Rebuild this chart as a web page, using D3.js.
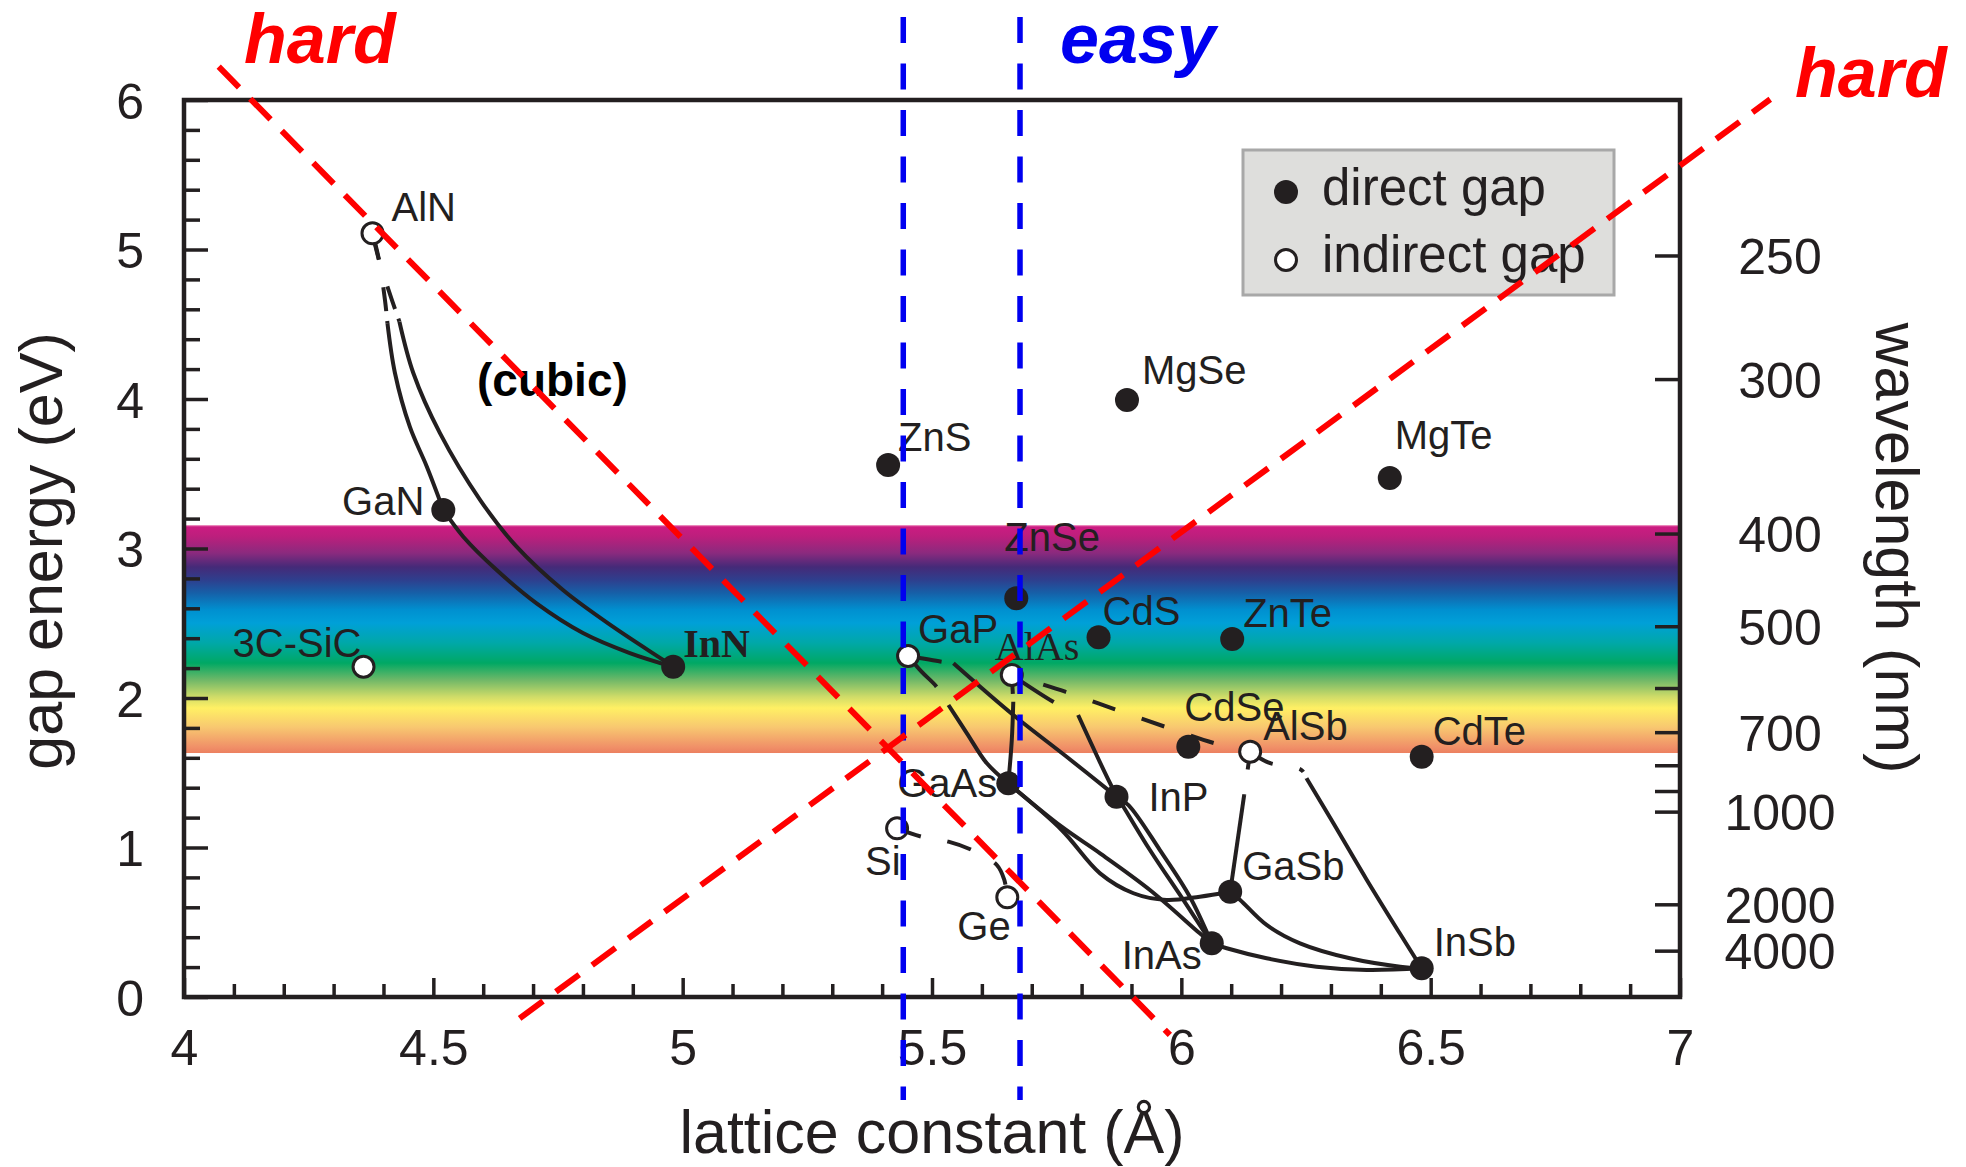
<!DOCTYPE html>
<html>
<head>
<meta charset="utf-8">
<script src="https://cdn.jsdelivr.net/npm/d3@7"></script>
<style>
  body { margin: 0; background: #fff; }
  svg { display: block; font-family: "Liberation Sans", Arial, sans-serif; }
</style>
</head>
<body>
<div id="chart"></div>
<script>
// ---- data ----
const materials = ['AlN','GaN','InN','3C-SiC','ZnS','MgSe','MgTe','ZnSe','CdS','ZnTe','GaP','AlAs',
                   'CdSe','AlSb','CdTe','GaAs','InP','Si','Ge','GaSb','InAs','InSb'];
const latticeA  = [4.378,4.520,4.981,4.360,5.412,5.891,6.418,5.669,5.834,6.102,5.452,5.660,
                   6.014,6.138,6.482,5.653,5.870,5.430,5.651,6.098,6.061,6.482];
const gapEV     = [5.108,3.258,2.209,2.209,3.559,3.993,3.472,2.667,2.406,2.395,2.281,2.154,
                   1.674,1.641,1.607,1.429,1.340,1.128,0.667,0.704,0.359,0.192];
const gapKind   = ['i','d','d','i','d','d','d','d','d','d','i','i',
                   'd','i','d','d','d','i','i','d','d','d'];

// alloy curves: [lattice constant, gap] points, indirect part dashed
const alloys = [
  { name: 'AlGaN',  dashed: [[4.378,5.108],[4.391,4.930],[4.403,4.662],[4.408,4.506]],
    solid: [[4.408,4.506],[4.423,4.174],[4.453,3.813],[4.487,3.547],[4.520,3.258]] },
  { name: 'AlInN',  dashed: [[4.378,5.108],[4.391,4.930],[4.417,4.662],[4.432,4.517]],
    solid: [[4.432,4.517],[4.460,4.172],[4.513,3.773],[4.594,3.324],[4.667,3.012],[4.760,2.722],
            [4.860,2.477],[4.961,2.254],[4.981,2.209]] },
  { name: 'InGaN',  dashed: [],
    solid: [[4.520,3.258],[4.560,3.079],[4.627,2.856],[4.707,2.633],[4.800,2.435],[4.894,2.301],[4.981,2.209]] },
  { name: 'GaAsP',  dashed: [[5.452,2.281],[5.479,2.176],[5.509,2.076],[5.533,1.953]],
    solid: [[5.533,1.953],[5.570,1.764],[5.610,1.563],[5.653,1.429]] },
  { name: 'GaInP',  dashed: [[5.452,2.281],[5.519,2.243],[5.543,2.232]],
    solid: [[5.543,2.232],[5.663,1.886],[5.770,1.607],[5.870,1.340]] },
  { name: 'AlGaAs', dashed: [[5.660,2.154],[5.663,1.975]],
    solid: [[5.663,1.975],[5.660,1.719],[5.653,1.429]] },
  { name: 'AlInAs', dashed: [[5.660,2.154],[5.743,1.975],[5.793,1.886]],
    solid: [[5.793,1.886],[5.864,1.385],[5.884,1.273],[5.937,0.983],[6.004,0.649],[6.061,0.359]] },
  { name: 'InAsP',  dashed: [],
    solid: [[5.870,1.340],[5.894,1.284],[5.957,0.983],[6.017,0.671],[6.061,0.359]] },
  { name: 'GaInAs', dashed: [],
    solid: [[5.653,1.429],[5.760,1.139],[5.837,0.961],[5.937,0.716],[6.037,0.426],[6.061,0.359]] },
  { name: 'GaAsSb', dashed: [],
    solid: [[5.653,1.429],[5.760,1.117],[5.837,0.827],[5.904,0.694],[5.970,0.649],[6.037,0.671],[6.098,0.704]] },
  { name: 'AlAsSb', dashed: [[5.660,2.154],[5.767,2.042],[5.867,1.924],[5.967,1.808],[6.065,1.699],[6.138,1.641]],
    solid: [] },
  { name: 'AlGaSb', dashed: [[6.138,1.641],[6.126,1.351]],
    solid: [[6.126,1.351],[6.098,0.704]] },
  { name: 'AlInSb', dashed: [[6.138,1.641],[6.174,1.569],[6.241,1.518],[6.251,1.463]],
    solid: [[6.251,1.463],[6.305,1.162],[6.372,0.783],[6.438,0.426],[6.482,0.192]] },
  { name: 'GaInSb', dashed: [],
    solid: [[6.098,0.704],[6.118,0.649],[6.171,0.482],[6.238,0.359],[6.338,0.259],[6.439,0.203],[6.482,0.192]] },
  { name: 'InAsSb', dashed: [],
    solid: [[6.061,0.359],[6.091,0.326],[6.171,0.259],[6.271,0.203],[6.372,0.181],[6.482,0.192]] },
  { name: 'SiGe',   dashed: [[5.430,1.128],[5.479,1.072],[5.533,1.039],[5.580,0.983],[5.630,0.883],[5.645,0.783],[5.651,0.667]],
    solid: [] }
];

// guide lines (lattice constant, eV)
const easyLatticeA = [5.4424, 5.6765];
const easyRangeEV  = [-0.689, 6.555];
const hardLines = [
  [[4.0696, 6.223], [5.977, -0.254]],
  [[4.673, -0.143], [7.181, 6.005]]
];

const visibleBandEV = [1.632, 3.157];

const xTicksMajor = [4, 4.5, 5, 5.5, 6, 6.5, 7];
const yTicksMajor = [0, 1, 2, 3, 4, 5, 6];
const wavelengthTicks = [250, 300, 400, 500, 600, 700, 800, 900, 1000, 2000, 4000];
const wavelengthLabelled = [250, 300, 400, 500, 700, 1000, 2000, 4000];
const HC = 1240; // eV nm

// ---- layout ----
const W = 1966, H = 1167;
const ink = '#231f20';

// label offsets from marker centre, px
const labelPos = {
  'AlN': [19, -12, 'start'], 'GaN': [-19, 5, 'end'], 'InN': [10, -10, 'start'],
  '3C-SiC': [-131, -10, 'start'], 'ZnS': [10, -14, 'start'], 'MgSe': [15, -16, 'start'],
  'MgTe': [5, -29, 'start'], 'ZnSe': [-12, -47, 'start'], 'CdS': [4, -12, 'start'],
  'ZnTe': [11, -12, 'start'], 'GaP': [10, -13, 'start'], 'AlAs': [-17, -15, 'start'],
  'CdSe': [-4, -26, 'start'], 'AlSb': [13, -12, 'start'], 'CdTe': [11, -12, 'start'],
  'GaAs': [-11, 14, 'end'], 'InP': [32, 14, 'start'], 'Si': [-32, 47, 'start'],
  'Ge': [-50, 43, 'start'], 'GaSb': [12, -12, 'start'], 'InAs': [-90, 26, 'start'],
  'InSb': [12, -12, 'start']
};
const dashFor = {
  'AlGaN': '27,28,24,10', 'AlInN': '27,28,24,10', 'GaAsP': '42,22', 'GaInP': '34,12',
  'AlGaAs': '19,8', 'AlInAs': '50,28', 'AlAsSb': '24,28', 'AlGaSb': '18,25',
  'AlInSb': '26,27,5,7', 'SiGe': '25,27'
};

const svg = d3.select('#chart').append('svg')
  .attr('width', W).attr('height', H);

const x = d3.scaleLinear().domain([4, 7]).range([184, 1680]);
const y = d3.scaleLinear().domain([0, 6]).range([997, 100]);

// visible-light band
const bandStops = [
  [3.157,'#f4a8cc'],[3.145,'#cc1c82'],[3.077,'#bb1f7c'],[2.970,'#8b2a7e'],[2.876,'#452a78'],
  [2.789,'#2e3f8e'],[2.702,'#1660a8'],[2.589,'#0090d0'],[2.502,'#00a0d8'],[2.368,'#00a8a8'],
  [2.234,'#00a864'],[2.120,'#70b868'],[2.007,'#d0dc68'],[1.933,'#fff064'],[1.806,'#f8c870'],
  [1.672,'#f09068'],[1.632,'#ec8060']
];
const grad = svg.append('defs').append('linearGradient')
  .attr('id', 'band').attr('x1', 0).attr('y1', 0).attr('x2', 0).attr('y2', 1);
grad.selectAll('stop').data(bandStops).enter().append('stop')
  .attr('offset', d => (visibleBandEV[1] - d[0]) / (visibleBandEV[1] - visibleBandEV[0]))
  .attr('stop-color', d => d[1]);

svg.append('rect')
  .attr('x', x(4)).attr('width', x(7) - x(4))
  .attr('y', y(visibleBandEV[1])).attr('height', y(visibleBandEV[0]) - y(visibleBandEV[1]))
  .attr('fill', 'url(#band)');

// axes
const styleAxis = g => {
  g.select('.domain').remove();
  g.selectAll('line').attr('stroke', ink).attr('stroke-width', 3.5);
  g.selectAll('text').attr('fill', ink).style('font-size', '50px');
};

svg.append('g').attr('transform', `translate(0,${y(0)})`)
  .call(d3.axisBottom(x).tickValues(d3.range(40, 71).map(v => v / 10).filter(v => !xTicksMajor.includes(v)))
    .tickSize(-13).tickFormat(''))
  .call(styleAxis);
svg.append('g').attr('transform', `translate(0,${y(0)})`)
  .call(d3.axisBottom(x).tickValues(xTicksMajor).tickSize(-19).tickPadding(32).tickFormat(d3.format('~g')))
  .call(styleAxis)
  .call(g => g.selectAll('text').attr('dy', '0.71em'));

svg.append('g').attr('transform', `translate(${x(4)},0)`)
  .call(d3.axisLeft(y).tickValues(d3.range(0, 31).map(v => v / 5).filter(v => !yTicksMajor.includes(v)))
    .tickSize(-16).tickFormat(''))
  .call(styleAxis);
svg.append('g').attr('transform', `translate(${x(4)},0)`)
  .call(d3.axisLeft(y).tickValues(yTicksMajor).tickSize(-24).tickPadding(40).tickFormat(d3.format('d')))
  .call(styleAxis)
  .call(g => g.selectAll('text').attr('dy', '0.36em'));

svg.append('g').attr('transform', `translate(${x(7)},0)`)
  .call(d3.axisRight(y).tickValues(wavelengthTicks.map(l => HC / l)).tickSize(-25)
    .tickFormat((d, i) => wavelengthLabelled.includes(wavelengthTicks[i]) ? wavelengthTicks[i] : ''))
  .call(styleAxis)
  .call(g => g.selectAll('text').attr('x', 100).attr('text-anchor', 'middle').attr('dy', '0.36em'));

svg.append('rect')
  .attr('x', x(4)).attr('y', y(6)).attr('width', x(7) - x(4)).attr('height', y(0) - y(6))
  .attr('fill', 'none').attr('stroke', ink).attr('stroke-width', 4.5);

// axis titles
svg.append('text').attr('x', 932).attr('y', 1153).attr('text-anchor', 'middle')
  .attr('fill', ink).style('font-size', '61px').text('lattice constant (Å)');
svg.append('text').attr('transform', 'translate(62,551) rotate(-90)').attr('text-anchor', 'middle')
  .attr('fill', ink).style('font-size', '61px').text('gap energy (eV)');
svg.append('text').attr('transform', 'translate(1876,548) rotate(90)').attr('text-anchor', 'middle')
  .attr('fill', ink).style('font-size', '61px').text('wavelength (nm)');

// alloy curves
const curve = d3.line().x(d => x(d[0])).y(d => y(d[1])).curve(d3.curveCatmullRom.alpha(0.5));
const curves = svg.append('g').attr('fill', 'none').attr('stroke', ink).attr('stroke-width', 4);
alloys.forEach(a => {
  if (a.solid.length) curves.append('path').attr('d', curve(a.solid));
  if (a.dashed.length) {
    const p = curves.append('path').attr('d', curve(a.dashed))
      .attr('stroke-dasharray', dashFor[a.name]);
    if (a.name === 'AlAsSb') p.attr('stroke-dashoffset', 19);
  }
});

// markers
const pts = materials.map((m, i) => ({ name: m, a: latticeA[i], e: gapEV[i], kind: gapKind[i] }));
svg.append('g').selectAll('circle').data(pts).enter().append('circle')
  .attr('cx', d => x(d.a)).attr('cy', d => y(d.e))
  .attr('r', d => d.kind === 'd' ? 12 : 10.5)
  .attr('fill', d => d.kind === 'd' ? ink : '#fff')
  .attr('stroke', ink).attr('stroke-width', d => d.kind === 'd' ? 0 : 3);

// labels
svg.append('g').selectAll('text').data(pts).enter().append('text')
  .attr('x', d => x(d.a) + labelPos[d.name][0])
  .attr('y', d => y(d.e) + labelPos[d.name][1])
  .attr('text-anchor', d => labelPos[d.name][2])
  .attr('fill', ink)
  .style('font-size', '40px')
  .style('font-family', d => (d.name === 'InN' || d.name === 'AlAs') ? '"Liberation Serif", serif' : null)
  .style('font-weight', d => d.name === 'InN' ? 'bold' : null)
  .text(d => d.name);

svg.append('text').attr('x', 477).attr('y', 396).attr('fill', '#000')
  .style('font-size', '46px').style('font-weight', 'bold').text('(cubic)');

// legend
const lg = svg.append('g');
lg.append('rect').attr('x', 1243).attr('y', 150).attr('width', 371).attr('height', 145)
  .attr('fill', '#dededc').attr('stroke', '#a8a8a8').attr('stroke-width', 3);
[['direct gap', 'd', 192, 205], ['indirect gap', 'i', 260, 272]].forEach(([txt, k, cy, by]) => {
  lg.append('circle').attr('cx', 1286).attr('cy', cy).attr('r', k === 'd' ? 12 : 10.5)
    .attr('fill', k === 'd' ? ink : '#fff').attr('stroke', ink).attr('stroke-width', k === 'd' ? 0 : 3);
  lg.append('text').attr('x', 1322).attr('y', by).attr('fill', ink)
    .style('font-size', '51px').text(txt);
});

// easy / hard guide lines
svg.append('g').selectAll('line').data(easyLatticeA).enter().append('line')
  .attr('x1', d => x(d)).attr('x2', d => x(d))
  .attr('y1', y(easyRangeEV[1])).attr('y2', y(easyRangeEV[0]))
  .attr('stroke', '#0000f0').attr('stroke-width', 5.5).attr('stroke-dasharray', '26,20.5');

svg.append('g').selectAll('line').data(hardLines).enter().append('line')
  .attr('x1', d => x(d[0][0])).attr('y1', d => y(d[0][1]))
  .attr('x2', d => x(d[1][0])).attr('y2', d => y(d[1][1]))
  .attr('stroke', '#ff0000').attr('stroke-width', 6).attr('stroke-dasharray', '29,16');

const tag = (tx, ty, txt, col) => svg.append('text').attr('x', tx).attr('y', ty).attr('fill', col)
  .style('font-size', '70px').style('font-weight', 'bold').style('font-style', 'italic').text(txt);
tag(244, 63, 'hard', '#ff0000');
tag(1795, 97, 'hard', '#ff0000');
tag(1060, 63, 'easy', '#0000f0');
</script>
</body>
</html>
